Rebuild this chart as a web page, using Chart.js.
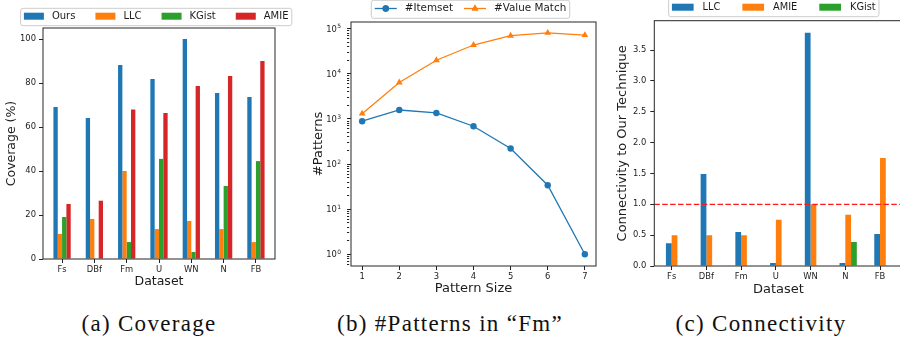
<!DOCTYPE html>
<html><head><meta charset="utf-8">
<script src="https://cdn.jsdelivr.net/npm/chart.js@4/dist/chart.umd.min.js"></script>
<style>
html,body{margin:0;padding:0;width:900px;height:351px;overflow:hidden;background:#fff;}
canvas{position:absolute;top:0;}
.cap{position:absolute;top:312px;width:300px;text-align:center;font-family:"Liberation Serif",serif;font-size:23px;letter-spacing:1.3px;line-height:23px;color:#111;white-space:nowrap;}
</style></head><body>
<canvas id="cA" width="300" height="300" style="left:0px"></canvas>
<canvas id="cB" width="300" height="300" style="left:300px"></canvas>
<canvas id="cC" width="320" height="300" style="left:600px"></canvas>
<div class="cap" style="left:-1px">(a) Coverage</div>
<div class="cap" style="left:300px">(b) #Patterns in “Fm”</div>
<div class="cap" style="left:611px">(c) Connectivity</div>
<script>
// ---------- data ----------
const datasetNames = ['Fs', 'DBf', 'Fm', 'U', 'WN', 'N', 'FB'];
const coverageOurs  = [69.1, 64.1, 88.2, 81.8, 100, 75.5, 73.6];
const coverageLLC   = [11.4, 18.2, 40.0, 13.6, 17.3, 13.6, 7.7];
const coverageKGist = [19.1, 0, 7.7, 45.5, 3.2, 33.2, 44.5];
const coverageAMIE  = [25.0, 26.5, 67.9, 66.4, 78.6, 83.2, 90.0];
const coverageTicks = [0, 20, 40, 60, 80, 100];

const patternSizes     = [1, 2, 3, 4, 5, 6, 7];
const itemsetCounts    = [890, 1580, 1360, 690, 222, 34, 1];
const valueMatchCounts = [1310, 6450, 20000, 43600, 70000, 81000, 72000];

const connLLC   = [0.37, 1.49, 0.55, 0.05, 3.78, 0.05, 0.52];
const connAMIE  = [0.50, 0.50, 0.50, 0.75, 1.00, 0.83, 1.75];
const connKGist = [0, 0, 0, 0, 0, 0.39, 0];
const connTicks = [0, 0.5, 1.0, 1.5, 2.0, 2.5, 3.0, 3.5];
const connReference = 1.0;

// ---------- style ----------
const C_BLUE = '#1f77b4', C_ORANGE = '#ff7f0e', C_GREEN = '#2ca02c', C_RED = '#d62728';
const TXT = '#1c1c1c';
const FAM = '"DejaVu Sans", sans-serif';
const TICK = 8.4;
Chart.defaults.font.family = FAM;
Chart.defaults.color = TXT;

const frame = {
  id: 'frame',
  afterDatasetsDraw(chart) {
    const {ctx, chartArea: a} = chart;
    ctx.save();
    ctx.strokeStyle = '#262626'; ctx.lineWidth = 1;
    ctx.strokeRect(a.left, a.top, a.right - a.left, a.bottom - a.top);
    ctx.restore();
  }
};

const refLine = {
  id: 'refLine',
  afterDatasetsDraw(chart, args, o) {
    if (o.value === undefined) return;
    const {ctx, chartArea: a} = chart;
    const y = chart.scales.y.getPixelForValue(o.value);
    ctx.save();
    ctx.beginPath(); ctx.rect(a.left, a.top, a.right - a.left, a.bottom - a.top); ctx.clip();
    ctx.strokeStyle = o.color; ctx.lineWidth = o.width; ctx.setLineDash(o.dash);
    ctx.beginPath(); ctx.moveTo(a.left, y); ctx.lineTo(a.right, y); ctx.stroke();
    ctx.restore();
  }
};

const mplLegend = {
  id: 'mplLegend',
  afterDraw(chart, args, o) {
    const ctx = chart.ctx;
    const items = chart.data.datasets.filter(d => d.label);
    ctx.save();
    ctx.font = o.fontSize + 'px ' + FAM;
    const widths = items.map(d => ctx.measureText(d.label).width);
    const inner = widths.reduce((s, w) => s + o.handle + o.gap + w, 0) + o.col * (items.length - 1);
    const W = inner + 2 * o.pad;
    const left = o.cx - W / 2;
    ctx.beginPath();
    ctx.roundRect(left, o.top, W, o.height, 2.5);
    ctx.fillStyle = 'rgba(255,255,255,0.8)'; ctx.fill();
    ctx.strokeStyle = '#cccccc'; ctx.lineWidth = 1; ctx.stroke();
    let x = left + o.pad;
    const cy = o.top + o.height / 2 + o.dy;
    items.forEach((d, i) => {
      if (o.kind === 'patch') {
        ctx.fillStyle = d.backgroundColor;
        ctx.fillRect(x, cy - o.patchH / 2, o.handle, o.patchH);
      } else {
        ctx.strokeStyle = d.borderColor; ctx.lineWidth = d.borderWidth;
        ctx.beginPath(); ctx.moveTo(x, cy); ctx.lineTo(x + o.handle, cy); ctx.stroke();
        ctx.fillStyle = d.backgroundColor;
        Chart.helpers.drawPoint(ctx, {pointStyle: d.pointStyle, radius: d.pointRadius, borderWidth: 0}, x + o.handle / 2, cy);
        ctx.fill();
      }
      ctx.fillStyle = TXT; ctx.textBaseline = 'middle'; ctx.textAlign = 'left';
      ctx.fillText(d.label, x + o.handle + o.gap, cy);
      x += o.handle + o.gap + widths[i] + o.col;
    });
    ctx.restore();
  }
};

// draws log-axis labels as "10" with a raised exponent (matplotlib mathtext look)
function isPow10(v) { const e = Math.log10(v); return Math.abs(e - Math.round(e)) < 1e-9; }
const powLabels = {
  id: 'powLabels',
  afterDraw(chart, args, o) {
    const sc = chart.scales.y;
    const ctx = chart.ctx;
    ctx.save();
    ctx.fillStyle = TXT; ctx.textAlign = 'right'; ctx.textBaseline = 'alphabetic';
    sc.ticks.forEach(t => {
      if (!isPow10(t.value)) return;
      const y = sc.getPixelForValue(t.value);
      const exp = String(Math.round(Math.log10(t.value)));
      const xr = chart.chartArea.left - o.gap;
      ctx.font = o.expSize + 'px ' + FAM;
      const ew = ctx.measureText(exp).width;
      ctx.fillText(exp, xr, y + 3.2 - o.raise);
      ctx.font = o.size + 'px ' + FAM;
      ctx.fillText('10', xr - ew - 0.3, y + 3.2);
    });
    ctx.restore();
  }
};

function indexAxis(min, max, height, titlePadBottom, titleSize) {
  return {
    type: 'linear', min: min, max: max, offset: false,
    afterBuildTicks: s => { s.ticks = datasetNames.map((_, i) => ({value: i})); },
    afterFit: s => { s.height = height; },
    ticks: {callback: v => datasetNames[v], autoSkip: false, maxRotation: 0, font: {size: TICK}, padding: 2, color: TXT},
    grid: {drawOnChartArea: false, offset: false, tickLength: 4, tickColor: '#222', tickWidth: 1},
    border: {display: false},
    title: {display: true, text: 'Dataset', font: {size: titleSize}, padding: {top: 0, bottom: titlePadBottom}, color: TXT}
  };
}
function pts(xs, ys) { return ys.map((v, i) => ({x: xs[i], y: v})); }
const idx = datasetNames.map((_, i) => i);

// ---------- (a) Coverage ----------
new Chart(document.getElementById('cA'), {
  type: 'bar',
  data: {datasets: [
    {label: 'Ours',  data: pts(idx, coverageOurs),  backgroundColor: C_BLUE},
    {label: 'LLC',   data: pts(idx, coverageLLC),   backgroundColor: C_ORANGE},
    {label: 'KGist', data: pts(idx, coverageKGist), backgroundColor: C_GREEN},
    {label: 'AMIE',  data: pts(idx, coverageAMIE),  backgroundColor: C_RED}
  ]},
  options: {
    responsive: false, animation: false, devicePixelRatio: 1,
    layout: {padding: {left: 0, right: 25, top: 28, bottom: 0}},
    datasets: {bar: {categoryPercentage: 0.535, barPercentage: 1, borderWidth: 0}},
    plugins: {
      legend: {display: false}, tooltip: {enabled: false},
      mplLegend: {cx: 156.2, top: 8.3, height: 17.4, fontSize: 10, handle: 20, gap: 8, col: 20, pad: 3.3, kind: 'patch', patchH: 7, dy: -0.8}
    },
    scales: {
      x: indexAxis(-0.59, 6.59, 41, 10.5, 12.5),
      y: {
        min: 0, max: 105,
        afterBuildTicks: s => { s.ticks = coverageTicks.map(v => ({value: v})); },
        afterFit: s => { s.width = 43; },
        ticks: {font: {size: TICK}, padding: 3, color: TXT},
        grid: {drawOnChartArea: false, tickLength: 4, tickColor: '#222', tickWidth: 1},
        border: {display: false},
        title: {display: true, text: 'Coverage (%)', font: {size: 12.5}, padding: {top: 4.5, bottom: 0}, color: TXT}
      }
    }
  },
  plugins: [frame, mplLegend]
});

// ---------- (b) #Patterns ----------
new Chart(document.getElementById('cB'), {
  type: 'line',
  data: {datasets: [
    {label: '#Itemset', data: pts(patternSizes, itemsetCounts), borderColor: C_BLUE, backgroundColor: C_BLUE,
     borderWidth: 1.3, pointStyle: 'circle', pointRadius: 3.2, pointBorderWidth: 0, tension: 0},
    {label: '#Value Match', data: pts(patternSizes, valueMatchCounts), borderColor: C_ORANGE, backgroundColor: C_ORANGE,
     borderWidth: 1.3, pointStyle: 'triangle', pointRadius: 3.9, pointBorderWidth: 0, tension: 0}
  ]},
  options: {
    responsive: false, animation: false, devicePixelRatio: 1,
    layout: {padding: {left: 0, right: 4, top: 22, bottom: 0}},
    plugins: {
      legend: {display: false}, tooltip: {enabled: false},
      mplLegend: {cx: 170.5, top: 0.3, height: 18, fontSize: 10.4, handle: 22, gap: 8, col: 11, pad: 3.5, kind: 'line', dy: -0.8},
      powLabels: {gap: 10, size: 8.4, expSize: 6, raise: 3.6}
    },
    scales: {
      x: {
        type: 'linear', min: 0.7, max: 7.3,
        afterBuildTicks: s => { s.ticks = patternSizes.map(v => ({value: v})); },
        afterFit: s => { s.height = 34; },
        ticks: {font: {size: TICK}, padding: 2, color: TXT, autoSkip: false, maxRotation: 0},
        grid: {drawOnChartArea: false, tickLength: 4, tickColor: '#222', tickWidth: 1},
        border: {display: false},
        title: {display: true, text: 'Pattern Size', font: {size: 13}, padding: {top: 0, bottom: 3.2}, color: TXT}
      },
      y: {
        type: 'logarithmic', min: 0.55, max: 141000,
        afterBuildTicks: s => {
          const t = [];
          for (let e = -1; e <= 5; e++) for (let m = 1; m <= 9; m++) {
            const v = m * Math.pow(10, e);
            if (v >= s.min && v <= s.max) t.push({value: v, major: m === 1});
          }
          s.ticks = t;
        },
        afterFit: s => { s.width = 51; },
        ticks: {font: {size: TICK}, padding: 5, color: TXT, autoSkip: false, callback: () => ''},
        grid: {
          drawOnChartArea: false, tickLength: 4, tickColor: '#222', tickWidth: 1,
          tickBorderDash: ctx => (ctx.tick && isPow10(ctx.tick.value)) ? [] : [2.2, 20]
        },
        border: {display: false},
        title: {display: true, text: '#Patterns', font: {size: 13}, padding: {top: 10.7, bottom: 0}, color: TXT}
      }
    }
  },
  plugins: [frame, mplLegend, powLabels]
});

// ---------- (c) Connectivity ----------
new Chart(document.getElementById('cC'), {
  type: 'bar',
  data: {datasets: [
    {label: '', data: []},
    {label: 'LLC',   data: pts(idx, connLLC),   backgroundColor: C_BLUE},
    {label: 'AMIE',  data: pts(idx, connAMIE),  backgroundColor: C_ORANGE},
    {label: 'KGist', data: pts(idx, connKGist), backgroundColor: C_GREEN}
  ]},
  options: {
    responsive: false, animation: false, devicePixelRatio: 1,
    layout: {padding: {left: 0, right: 17.4, top: 20.7, bottom: 0}},
    datasets: {bar: {categoryPercentage: 0.663, barPercentage: 1, borderWidth: 0}},
    plugins: {
      legend: {display: false}, tooltip: {enabled: false},
      mplLegend: {cx: 173.8, top: -1.5, height: 18.2, fontSize: 9.8, handle: 21.7, gap: 9, col: 22, pad: 3.3, kind: 'patch', patchH: 7, dy: -0.4},
      refLine: {value: connReference, color: '#ff1a1a', width: 1.3, dash: [5.5, 2.4]}
    },
    scales: {
      x: indexAxis(-0.5, 6.65, 34, 2.2, 13),
      y: {
        min: 0, max: 3.975,
        afterBuildTicks: s => { s.ticks = connTicks.map(v => ({value: v})); },
        afterFit: s => { s.width = 54.3; },
        ticks: {font: {size: TICK}, padding: 4, color: TXT, callback: v => v.toFixed(1)},
        grid: {drawOnChartArea: false, tickLength: 4, tickColor: '#222', tickWidth: 1},
        border: {display: false},
        title: {display: true, text: 'Connectivity to Our Technique', font: {size: 13}, padding: {top: 15.2, bottom: 0}, color: TXT}
      }
    }
  },
  plugins: [refLine, frame, mplLegend]
});
</script>
</body></html>
